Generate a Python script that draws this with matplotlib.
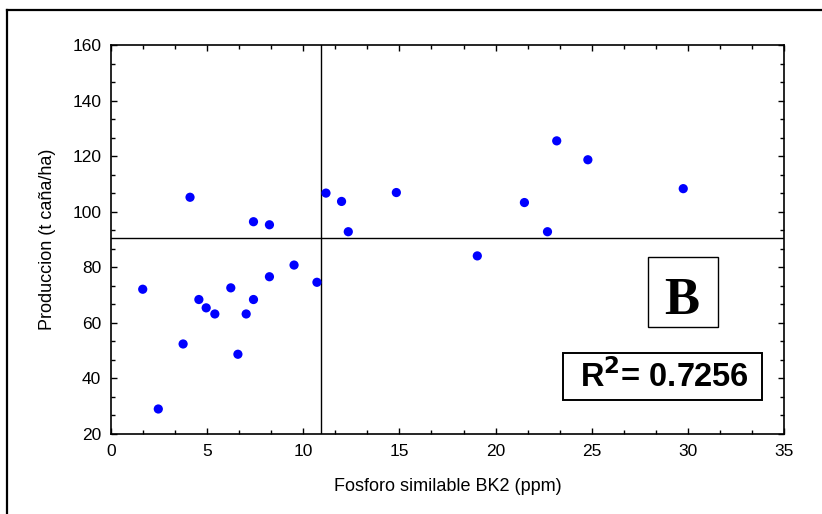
import matplotlib.pyplot as plt
from matplotlib.lines import Line2D
from matplotlib.patches import Rectangle
from matplotlib.ticker import MultipleLocator

# Fosforo similable BK2 (ppm) vs produccion (t caña/ha)
fosforo = [1.65, 2.46, 3.75, 4.11, 4.57, 4.95, 5.40, 6.23, 6.60, 7.03,
           7.41, 7.41, 8.24, 8.24, 9.52, 10.71, 11.18, 11.99, 12.34, 14.84,
           19.05, 21.5, 22.7, 23.18, 24.8, 29.76]
produccion = [72.1, 29.0, 52.4, 105.2, 68.4, 65.4, 63.2, 72.6, 48.7, 63.2,
              68.4, 96.4, 95.3, 76.6, 80.8, 74.6, 106.7, 103.7, 92.8, 106.9,
              84.1, 103.3, 92.8, 125.5, 118.7, 108.3]

# critical levels (reference lines)
nivel_x = 10.92
nivel_y = 90.6

x_ticks = [0, 5, 10, 15, 20, 25, 30, 35]
y_ticks = [20, 40, 60, 80, 100, 120, 140, 160]

plt.rcParams['font.family'] = ['Liberation Sans', 'DejaVu Sans']

W, H = 822, 514
fig = plt.figure(figsize=(W / 100, H / 100), dpi=100)
ax = fig.add_axes([111 / W, 1 - 434 / H, (784 - 111) / W, (434 - 45) / H])

ax.scatter(fosforo, produccion, s=44, color='#0000ff', edgecolors='none', zorder=3)
ax.axvline(nivel_x, color='black', lw=1.0, zorder=2)
ax.axhline(nivel_y, color='black', lw=1.0, zorder=2)

ax.set_xlim(0, 35)
ax.set_ylim(20, 160)
ax.set_xticks(x_ticks)
ax.set_yticks(y_ticks)
ax.xaxis.set_minor_locator(MultipleLocator(5 / 3))
ax.yaxis.set_minor_locator(MultipleLocator(20 / 3))
ax.tick_params(which='both', direction='in', top=True, right=True,
               labelsize=12.5, width=1.0)
ax.tick_params(which='major', length=4, pad=7)
ax.tick_params(which='minor', length=3)
for s in ax.spines.values():
    s.set_linewidth(1.2)

ax.set_xlabel('Fosforo similable BK2 (ppm)', fontsize=13, labelpad=14)
ax.set_ylabel('Produccion (t caña/ha)', fontsize=13, labelpad=12)

# outer frame (left and top edges visible)
fig.add_artist(Line2D([7 / W, 7 / W], [0, 1 - 10 / H], transform=fig.transFigure,
                      color='black', lw=1.6))
fig.add_artist(Line2D([7 / W, 1], [1 - 10 / H, 1 - 10 / H], transform=fig.transFigure,
                      color='black', lw=1.6))

# "B" label box
fig.add_artist(Rectangle((648 / W, 1 - 327 / H), 70 / W, 70 / H,
                         transform=fig.transFigure, fill=False, ec='black', lw=1.0))
fig.text(682 / W, 1 - 314 / H, 'B', ha='center', va='baseline', fontsize=38,
         fontweight='bold', family=['Liberation Serif', 'DejaVu Serif'])

# R² box
fig.add_artist(Rectangle((563 / W, 1 - 400 / H), 199 / W, 47 / H,
                         transform=fig.transFigure, fill=False, ec='black', lw=1.4))
fig.text(664 / W, 1 - 387 / H, r'R$^\mathbf{2}$= 0.7256', ha='center', va='baseline',
         fontsize=23.5, fontweight='bold')

fig.savefig('out.png', dpi=100)
